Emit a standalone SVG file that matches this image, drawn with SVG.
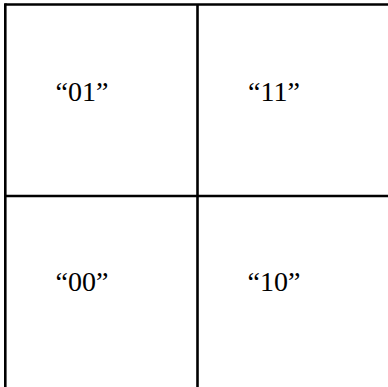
<svg xmlns="http://www.w3.org/2000/svg" width="388" height="387" viewBox="0 0 388 387">
<style>
.ln{stroke:#000;stroke-width:2.6;fill:none}
.lb{font-family:"Liberation Serif","DejaVu Serif",serif;font-size:28px;text-anchor:middle;fill:#000}
</style>
<rect width="388" height="387" fill="#fff"/>
<g id="connectors">
<line class="ln" x1="5.3" y1="4.5" x2="388" y2="4.5"/>
<line class="ln" x1="5.3" y1="3.2" x2="5.3" y2="387"/>
<line class="ln" x1="197.5" y1="4.5" x2="197.5" y2="387"/>
<line class="ln" x1="5.3" y1="196" x2="388" y2="196"/>
</g>
<g id="n01"><text class="lb" x="82" y="101">“01”</text></g>
<g id="n11"><text class="lb" x="274" y="101">“11”</text></g>
<g id="n00"><text class="lb" x="82" y="291">“00”</text></g>
<g id="n10"><text class="lb" x="274" y="291">“10”</text></g>
</svg>
